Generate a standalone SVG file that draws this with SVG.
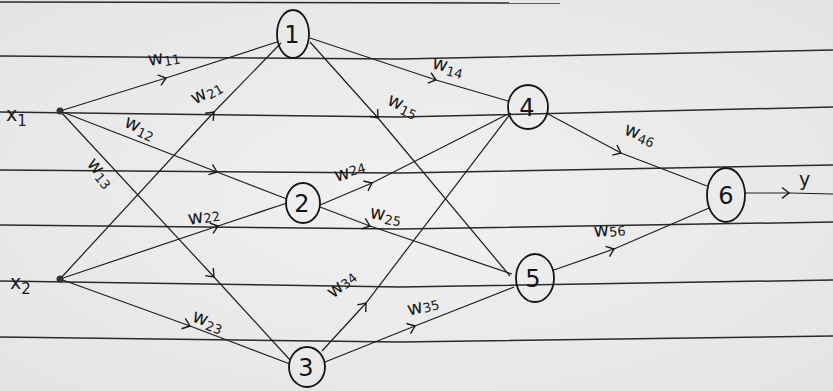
<svg xmlns="http://www.w3.org/2000/svg" width="833" height="391" viewBox="0 0 833 391">
<defs>
<marker id="chev" viewBox="-9 -7 11 14" markerWidth="11" markerHeight="14" markerUnits="userSpaceOnUse" orient="auto" refX="0" refY="0">
<path d="M-7,-5.5 L0,0 L-7,5.5" fill="none" stroke="#1a1a1a" stroke-width="1.4"/>
</marker>
<radialGradient id="paper" cx="0.5" cy="0.5" r="0.7">
<stop offset="0" stop-color="#f1f1f1"/>
<stop offset="1" stop-color="#e4e4e4"/>
</radialGradient>
</defs>
<style>
.rule{fill:none;stroke:#2a2a2a;stroke-width:1.5}
.edge{fill:none;stroke:#1e1e1e;stroke-width:1.2;marker-mid:url(#chev)}
.node{fill:none;stroke:#151515;stroke-width:1.8}
.num{font-family:"DejaVu Sans",sans-serif;font-size:24px;fill:#151515;text-anchor:middle}
.lab{font-family:"DejaVu Sans",sans-serif;font-size:19px;fill:#1a1a1a}
.sub{font-size:13px}
</style>
<rect width="833" height="391" fill="url(#paper)"/>
<g id="ruled-lines">
<polyline class="rule" points="0,2 560,3"/>
<polyline class="rule" points="0,56 400,59 833,50"/>
<polyline class="rule" points="0,112 400,117 833,107"/>
<polyline class="rule" points="0,170 400,173 833,165"/>
<polyline class="rule" points="0,225 400,229 833,222"/>
<polyline class="rule" points="0,281 400,287 833,280"/>
<polyline class="rule" points="0,337 400,342 833,336"/>
</g>
<g id="connectors">
<path class="edge" d="M60,111 L166,78 L277,42"/>
<path class="edge" d="M60,111 L217,172 L287,199"/>
<path class="edge" d="M60,111 L214,277 L290,360"/>
<path class="edge" d="M60,279 L214,112 L281,43"/>
<path class="edge" d="M60,279 L218,226 L287,203"/>
<path class="edge" d="M60,279 L190,326 L290,364"/>
<path class="edge" d="M310,38 L436,80 L508,101"/>
<path class="edge" d="M310,42 L378,118 L510,276"/>
<path class="edge" d="M320,205 L372,183 L508,114"/>
<path class="edge" d="M320,207 L370,226 L512,274"/>
<path class="edge" d="M322,351 L366,303 L511,113"/>
<path class="edge" d="M325,362 L415,326 L514,287"/>
<path class="edge" d="M548,114 L621,153 L707,186"/>
<path class="edge" d="M554,270 L614,249 L709,208"/>
<path class="edge" d="M745,193 L789,193 L833,194"/>
</g>
<g id="x1"><circle cx="60" cy="111" r="3.5" fill="#333"/><text class="lab" x="6" y="121" font-size="24">x<tspan font-size="15" dy="5">1</tspan></text></g>
<g id="x2"><circle cx="60" cy="279" r="3.5" fill="#333"/><text class="lab" x="10" y="289" font-size="24">x<tspan font-size="15" dy="5">2</tspan></text></g>
<g id="n1"><ellipse class="node" cx="293" cy="34" rx="16" ry="24"/><text class="num" x="292" y="43">1</text></g>
<g id="n2"><ellipse class="node" cx="303" cy="203" rx="17" ry="20"/><text class="num" x="302" y="212">2</text></g>
<g id="n3"><ellipse class="node" cx="307" cy="367" rx="18" ry="20"/><text class="num" x="306" y="376">3</text></g>
<g id="n4"><ellipse class="node" cx="528" cy="107" rx="20" ry="22"/><text class="num" x="527" y="116">4</text></g>
<g id="n5"><ellipse class="node" cx="535" cy="278" rx="19" ry="24"/><text class="num" x="533" y="287">5</text></g>
<g id="n6"><ellipse class="node" cx="726" cy="195" rx="19" ry="27"/><text class="num" x="726" y="204">6</text></g>
<g id="labels">
<text class="lab" transform="translate(149,66) rotate(-10)">w<tspan class="sub" dy="3">11</tspan></text>
<text class="lab" transform="translate(195,105) rotate(-30)">w<tspan class="sub" dy="3">21</tspan></text>
<text class="lab" transform="translate(123,126) rotate(25)">w<tspan class="sub" dy="3">12</tspan></text>
<text class="lab" transform="translate(86,164) rotate(50)">w<tspan class="sub" dy="3">13</tspan></text>
<text class="lab" transform="translate(431,68) rotate(15)">w<tspan class="sub" dy="3">14</tspan></text>
<text class="lab" transform="translate(386,104) rotate(25)">w<tspan class="sub" dy="3">15</tspan></text>
<text class="lab" transform="translate(336,182) rotate(-15)">w<tspan class="sub" dy="-2">24</tspan></text>
<text class="lab" transform="translate(369,218) rotate(10)">w<tspan class="sub" dy="3">25</tspan></text>
<text class="lab" transform="translate(189,225) rotate(-10)">w<tspan class="sub" dy="1">22</tspan></text>
<text class="lab" transform="translate(191,321) rotate(20)">w<tspan class="sub" dy="3">23</tspan></text>
<text class="lab" transform="translate(333,299) rotate(-40)">w<tspan class="sub" dy="1">34</tspan></text>
<text class="lab" transform="translate(409,316) rotate(-15)">w<tspan class="sub" dy="1">35</tspan></text>
<text class="lab" transform="translate(623,134) rotate(20)">w<tspan class="sub" dy="3">46</tspan></text>
<text class="lab" transform="translate(594,237) rotate(-5)">w<tspan class="sub" dy="1">56</tspan></text>
<text class="lab" x="799" y="186" font-size="22">y</text>
</g>
</svg>
